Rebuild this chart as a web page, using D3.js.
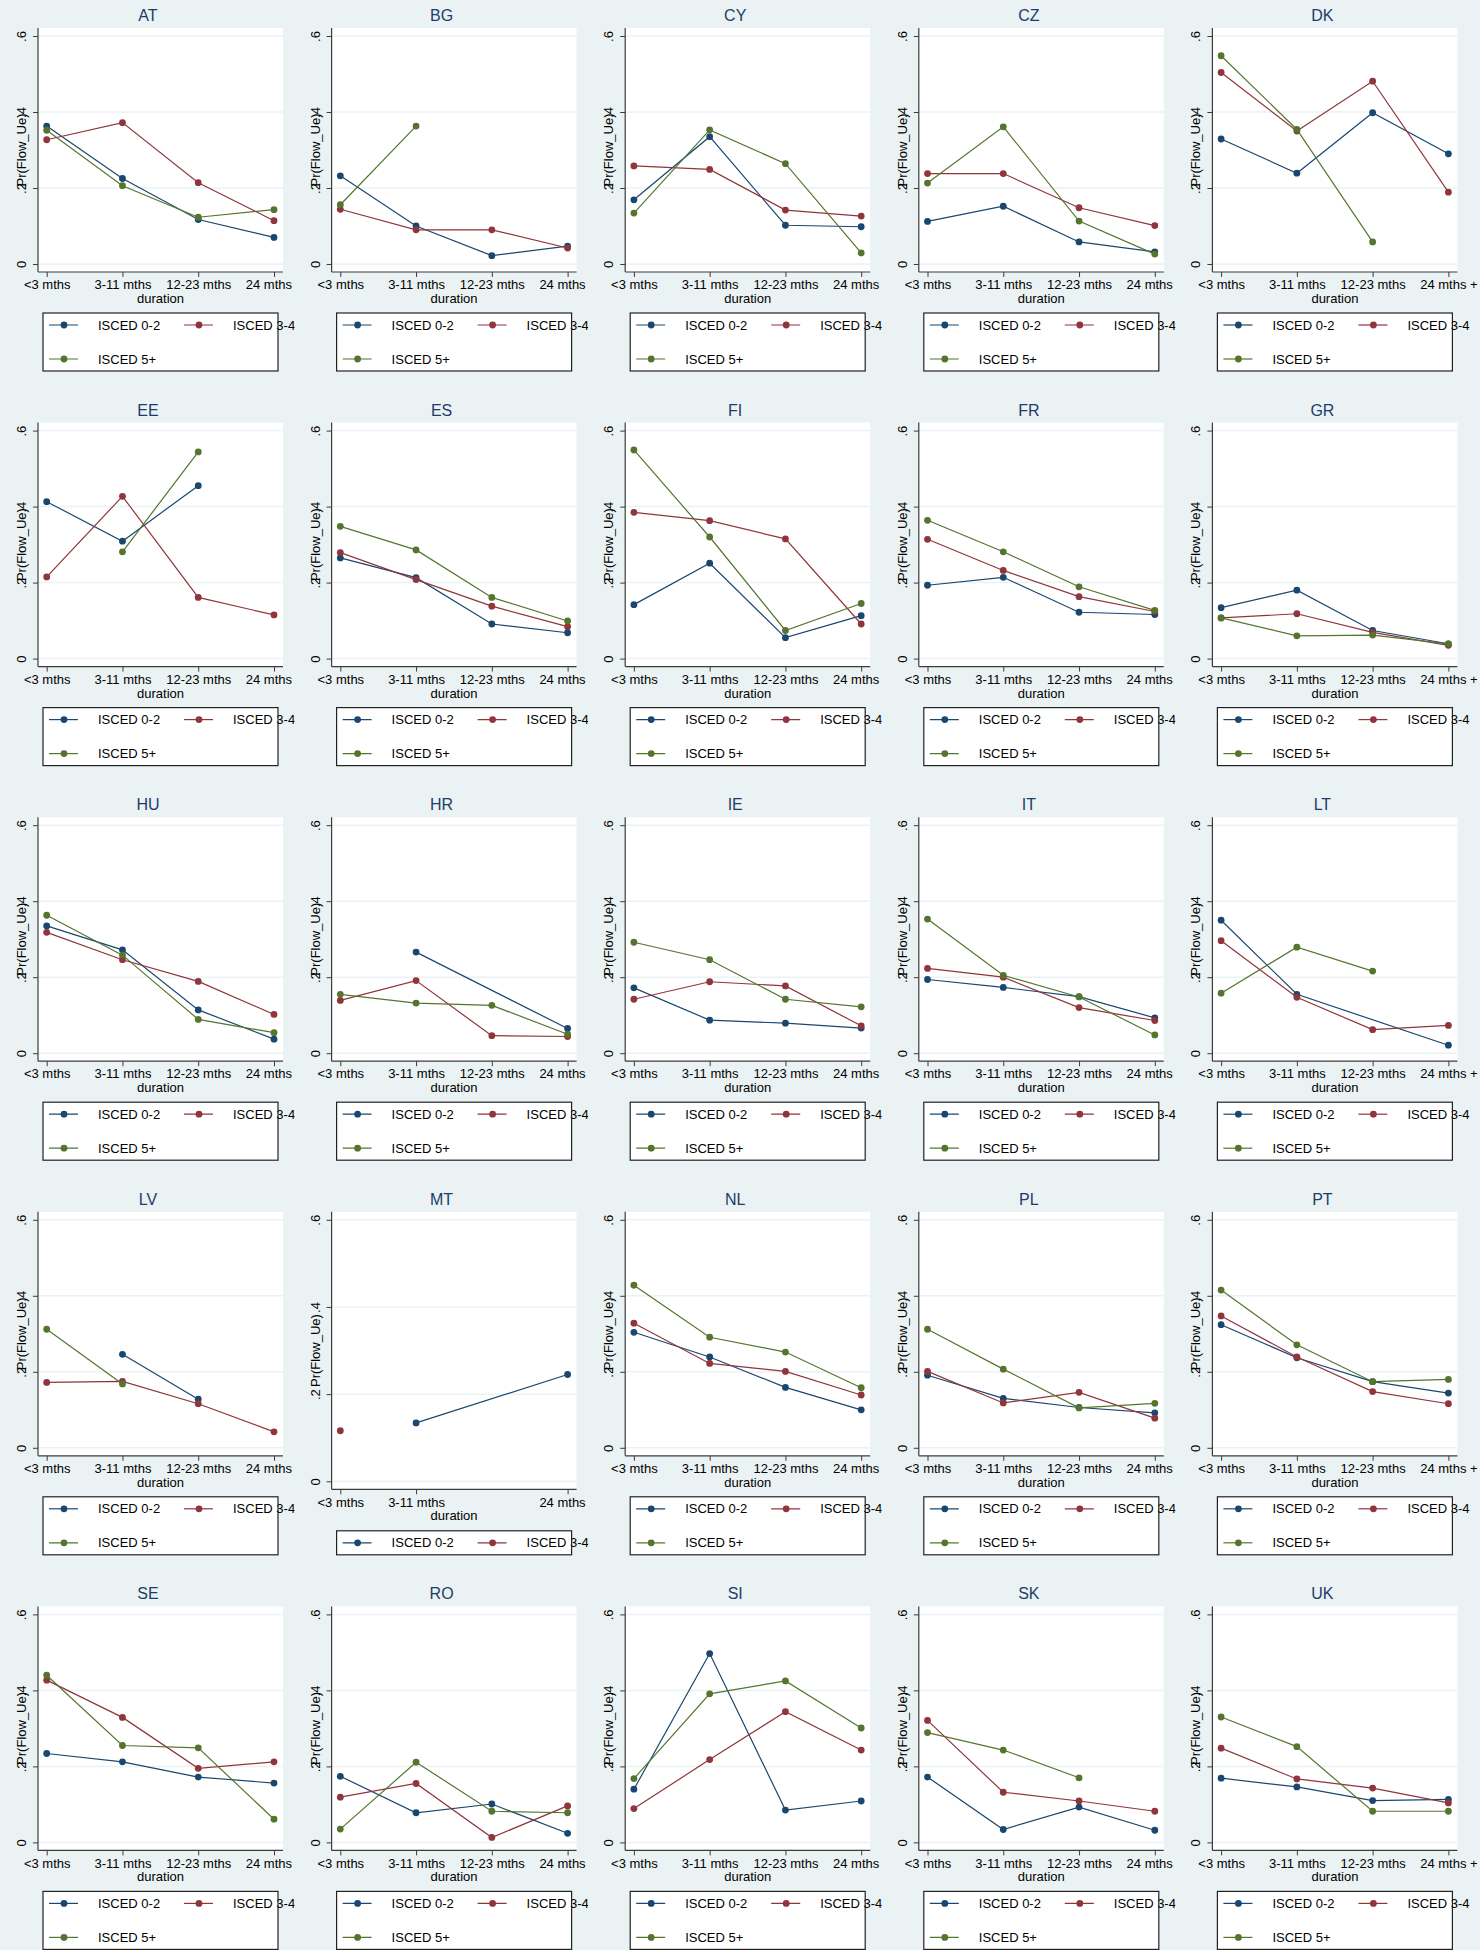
<!DOCTYPE html>
<html><head><meta charset="utf-8">
<script src="https://cdn.jsdelivr.net/npm/d3@7"></script>
<style>
html,body{margin:0;padding:0;background:#eaf2f3;}
svg{display:block;font-family:"Liberation Sans",Arial,sans-serif;}
</style></head><body>
<svg id="chart" width="1480" height="1950"></svg>
<script>
const countries = ["AT","BG","CY","CZ","DK","EE","ES","FI","FR","GR","HU","HR","IE","IT","LT","LV","MT","NL","PL","PT","SE","RO","SI","SK","UK"];
const durations = ["<3 mths","3-11 mths","12-23 mths","24 mths +"];
const seriesNames = ["ISCED 0-2","ISCED 3-4","ISCED 5+"];
const yTicks = [0, 0.2, 0.4, 0.6];
const yTickLabels = ["0", ".2", ".4", ".6"];
const xTitle = "duration";
const yTitle = "Pr(Flow_Ue)";

const isced02 = [
  [0.363,0.225,0.117,0.070],
  [0.232,0.100,0.022,0.047],
  [0.169,0.335,0.102,0.098],
  [0.112,0.152,0.058,0.032],
  [0.329,0.239,0.398,0.290],
  [0.413,0.309,0.455,null],
  [0.265,0.213,0.091,0.068],
  [0.142,0.251,0.055,0.113],
  [0.193,0.214,0.122,0.116],
  [0.134,0.180,0.074,0.039],
  [0.335,0.272,0.114,0.037],
  [null,0.266,null,0.065],
  [0.172,0.087,0.079,0.066],
  [0.194,0.173,0.149,0.093],
  [0.350,0.155,null,0.021],
  [null,0.246,0.128,null],
  [null,0.134,null,0.245],
  [0.304,0.239,0.159,0.100],
  [0.191,0.130,0.106,0.092],
  [0.324,0.237,0.174,0.144],
  [0.234,0.212,0.172,0.156],
  [0.174,0.078,0.101,0.024],
  [0.140,0.497,0.085,0.109],
  [0.172,0.034,0.093,0.032],
  [0.169,0.146,0.110,0.113]
];
const isced34 = [
  [0.327,0.372,0.214,0.114],
  [0.144,0.090,0.090,0.042],
  [0.258,0.249,0.142,0.126],
  [0.238,0.238,0.148,0.101],
  [0.504,0.350,0.481,0.189],
  [0.215,0.427,0.161,0.115],
  [0.279,0.208,0.138,0.084],
  [0.385,0.363,0.315,0.091],
  [0.314,0.232,0.163,0.124],
  [0.107,0.118,0.069,0.035],
  [0.318,0.246,0.189,0.102],
  [0.139,0.191,0.046,0.044],
  [0.142,0.188,0.177,0.072],
  [0.223,0.200,0.120,0.086],
  [0.296,0.147,0.062,0.073],
  [0.172,0.175,0.116,0.042],
  [0.116,null,null,null],
  [0.328,0.222,0.201,0.139],
  [0.201,0.118,0.146,0.078],
  [0.347,0.239,0.148,0.116],
  [0.427,0.329,0.195,0.212],
  [0.119,0.155,0.013,0.096],
  [0.089,0.218,0.344,0.243],
  [0.321,0.132,0.109,0.082],
  [0.248,0.167,0.143,0.104]
];
const isced5 = [
  [0.352,0.206,0.123,0.143],
  [0.156,0.363,null,null],
  [0.134,0.353,0.264,0.029],
  [0.213,0.361,0.113,0.026],
  [0.548,0.354,0.058,null],
  [null,0.281,0.544,null],
  [0.348,0.286,0.161,0.099],
  [0.549,0.320,0.074,0.145],
  [0.364,0.281,0.189,0.127],
  [0.107,0.060,0.062,0.039],
  [0.363,0.258,0.089,0.054],
  [0.155,0.132,0.126,0.050],
  [0.292,0.246,0.142,0.122],
  [0.353,0.205,0.148,0.048],
  [0.158,0.279,0.216,null],
  [0.312,0.168,null,null],
  [null,null,null,null],
  [0.428,0.291,0.252,0.158],
  [0.312,0.207,0.105,0.117],
  [0.415,0.271,0.174,0.180],
  [0.440,0.255,0.249,0.061],
  [0.035,0.211,0.082,0.078],
  [0.168,0.391,0.425,0.301],
  [0.289,0.243,0.170,null],
  [0.330,0.252,0.082,0.082]
];

const colors = ["#1a476f","#90353b","#55752f"];
const bg = "#eaf2f3";
const axisColor = "#3c3c3c";
const titleColor = "#1e3c6a";
const colW = 293.6, rowH = 394.6;
const svg = d3.select("#chart");
svg.append("rect").attr("width",1480).attr("height",1950).attr("fill",bg);
const defs = svg.append("defs");
defs.append("clipPath").attr("id","panelClip").append("rect")
  .attr("x",0).attr("y",0).attr("width",colW+1).attr("height",rowH);

countries.forEach((country, i) => {
  const col = i % 5, row = Math.floor(i / 5);
  const outer = svg.append("g").attr("transform", `translate(${col*colW},${row*rowH})`);
  const g = outer.append("g").attr("clip-path", col < 4 ? "url(#panelClip)" : null);
  const all = [isced02[i], isced34[i], isced5[i]];
  const present = all.map(s => s.some(v => v != null));
  const nSeries = present.filter(Boolean).length;
  const extra = nSeries <= 2 ? 33.5 : 0;
  const plotL = 38, plotR = 283, plotT = 28, plotB = 272 + extra;

  const x = d3.scalePoint().domain(d3.range(4)).range([46.7, 274]).padding(0);
  const y = d3.scaleLinear().domain([0, 0.6]).range([264 + extra, 36]);

  // title
  g.append("text").attr("x", 148).attr("y", 21).attr("text-anchor","middle")
    .attr("font-size", 16).attr("fill", titleColor).text(country);

  // plot area
  g.append("rect").attr("x", plotL).attr("y", plotT).attr("width", plotR-plotL).attr("height", plotB-plotT).attr("fill","#fff");

  // gridlines
  g.append("g").selectAll("line").data(yTicks).join("line")
    .attr("x1", plotL).attr("x2", plotR).attr("y1", d => y(d)).attr("y2", d => y(d))
    .attr("stroke", bg).attr("stroke-width", 1.5);

  // y axis
  const yAxis = d3.axisLeft(y).tickValues(yTicks).tickFormat((d,k) => yTickLabels[k]).tickSize(5).tickSizeOuter(0);
  const ya = g.append("g").attr("transform", `translate(${plotL},0)`).call(yAxis)
    .attr("font-family", null).attr("font-size", null);
  ya.select(".domain").remove();
  ya.selectAll(".tick line").attr("stroke", axisColor);
  ya.selectAll(".tick text").attr("transform","rotate(-90)").attr("x",0).attr("y",-12).attr("dy",0)
    .attr("text-anchor","middle").attr("font-size",13).attr("fill","#000");
  g.append("line").attr("x1",plotL).attr("x2",plotL).attr("y1",plotT).attr("y2",plotB).attr("stroke",axisColor).attr("stroke-width",1.2);
  g.append("text").attr("transform", `translate(26,${(plotT+plotB)/2}) rotate(-90)`)
    .attr("text-anchor","middle").attr("font-size",13).attr("fill","#000").text(yTitle);

  // x axis
  const avail = d3.range(4).filter(k => all.some(s => s[k] != null));
  const xAxis = d3.axisBottom(x).tickValues(avail).tickFormat(k => durations[k]).tickSize(5).tickSizeOuter(0);
  const xa = g.append("g").attr("transform", `translate(0,${plotB})`).call(xAxis)
    .attr("font-family", null).attr("font-size", null);
  xa.select(".domain").remove();
  xa.selectAll(".tick line").attr("stroke", axisColor);
  xa.selectAll(".tick text").attr("font-size",13).attr("fill","#000");
  g.append("line").attr("x1",plotL).attr("x2",plotR).attr("y1",plotB).attr("y2",plotB).attr("stroke",axisColor).attr("stroke-width",1.2);
  g.append("text").attr("x", (plotL+plotR)/2).attr("y", plotB + 31).attr("text-anchor","middle")
    .attr("font-size",13).attr("fill","#000").text(xTitle);

  // series
  const line = d3.line().x(d => x(d.k)).y(d => y(d.v));
  all.forEach((s, si) => {
    const pts = s.map((v,k) => ({k, v})).filter(d => d.v != null);
    if (!pts.length) return;
    g.append("path").datum(pts).attr("d", line).attr("fill","none")
      .attr("stroke", colors[si]).attr("stroke-width", 1.2);
    g.append("g").selectAll("circle").data(pts).join("circle")
      .attr("cx", d => x(d.k)).attr("cy", d => y(d.v)).attr("r", 3.4).attr("fill", colors[si]);
  });

  // legend
  const entries = seriesNames.map((n, si) => ({n, si})).filter(e => present[e.si]);
  const rows = Math.ceil(entries.length / 2);
  const boxT = rows === 2 ? 313 : 347, boxB = 371;
  g.append("rect").attr("x",43).attr("y",boxT).attr("width",235).attr("height",boxB-boxT).attr("fill","#fff");
  const rowY = rows === 2 ? [325, 359] : [359];
  entries.forEach((e, k) => {
    const c = k % 2, r = Math.floor(k / 2);
    const ly = rowY[r], ox = c * 135;
    g.append("line").attr("x1",49+ox).attr("x2",78+ox).attr("y1",ly).attr("y2",ly).attr("stroke",colors[e.si]).attr("stroke-width",1.2);
    g.append("circle").attr("cx",64+ox).attr("cy",ly).attr("r",3.4).attr("fill",colors[e.si]);
    g.append("text").attr("x",98+ox).attr("y",ly).attr("dy","0.36em").attr("font-size",13).attr("fill","#000").text(e.n);
  });
  g.append("rect").attr("x",43).attr("y",boxT).attr("width",235).attr("height",boxB-boxT).attr("fill","none")
    .attr("stroke","#222").attr("stroke-width",1.2);
});
</script>
</body></html>
